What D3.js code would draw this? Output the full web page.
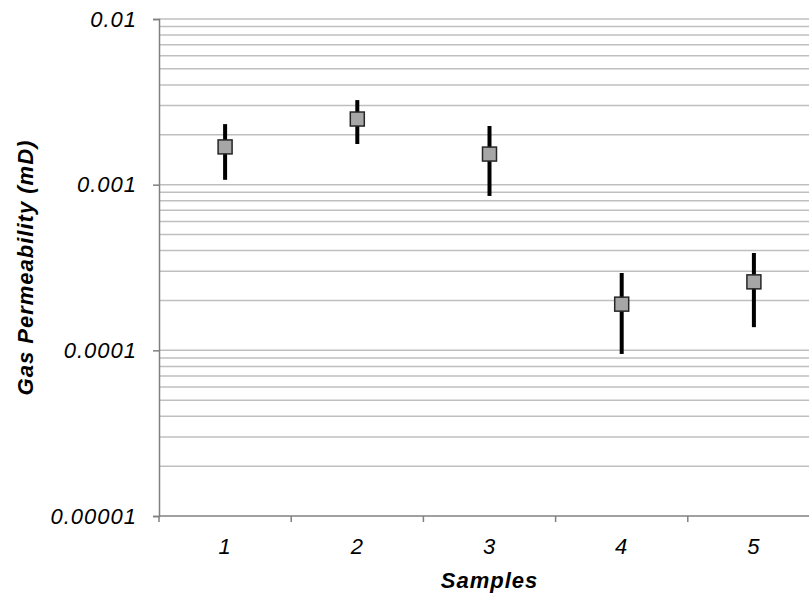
<!DOCTYPE html>
<html><head><meta charset="utf-8">
<script src="https://cdn.jsdelivr.net/npm/d3@7"></script>
<style>body{margin:0;background:#fff}svg{display:block}text{font-family:"Liberation Sans",Arial,sans-serif;letter-spacing:1px}</style>
</head><body><svg id="c" width="809" height="596"></svg>
<script>
const samples = ["1","2","3","4","5"];
const perm = [0.00169, 0.00249, 0.00153, 0.000190, 0.000259];
const permHigh = [0.00232, 0.00324, 0.00226, 0.000293, 0.000387];
const permLow = [0.00107, 0.00176, 0.000855, 0.0000951, 0.000138];
const yTicks = [0.00001, 0.0001, 0.001, 0.01];
const yTickLabels = ["0.00001","0.0001","0.001","0.01"];

(function () {
const svg = d3.select("#c");
const mLeft = 159, mRight = 820, mTop = 19, mBottom = 516;
const fs = 22;
const x = d3.scaleBand().domain(samples).range([mLeft, mRight]);
const y = d3.scaleLog().domain([0.00001, 0.01]).range([mBottom, mTop]);

// gridlines (major + minor)
const grid = [];
for (let e = -5; e < -2; e++) for (let m = 1; m <= 9; m++) grid.push(m * Math.pow(10, e));
grid.push(0.01);
svg.append("g").selectAll("line").data(grid.filter(v => v > 0.00001)).join("line")
  .attr("x1", mLeft).attr("x2", mRight)
  .attr("y1", d => y(d)).attr("y2", d => y(d))
  .attr("stroke", "#bfbfbf").attr("stroke-width", 1.5);

// y axis
const ya = svg.append("g").attr("transform", `translate(${mLeft},0)`)
  .call(d3.axisLeft(y).tickValues(yTicks).tickFormat((d, i) => yTickLabels[i]).tickSize(6).tickPadding(16));
ya.attr("font-size", fs).attr("font-family", '"Liberation Sans",Arial,sans-serif');
ya.select(".domain").attr("stroke", "#808080").attr("stroke-width", 1.5);
ya.selectAll(".tick line").attr("stroke", "#808080").attr("stroke-width", 1.5);
ya.selectAll("text").style("font-size", fs + "px").attr("font-style", "italic").attr("fill", "#000");

// x axis
const xa = svg.append("g").attr("transform", `translate(0,${mBottom})`);
xa.append("line").attr("x1", mLeft).attr("x2", mRight).attr("y1", 0).attr("y2", 0)
  .attr("stroke", "#808080").attr("stroke-width", 1.5);
const bounds = samples.map(s => x(s)).concat([mRight]);
xa.selectAll("line.tk").data(bounds).join("line").attr("class", "tk")
  .attr("x1", d => d).attr("x2", d => d).attr("y1", 0).attr("y2", 6)
  .attr("stroke", "#808080").attr("stroke-width", 1.5);
xa.selectAll("text").data(samples).join("text")
  .attr("x", d => x(d) + x.bandwidth() / 2).attr("y", 38)
  .attr("text-anchor", "middle").style("font-size", fs + "px").attr("font-style", "italic").text(d => d);

// axis titles
svg.append("text").attr("x", (mLeft + mRight) / 2).attr("y", 588).attr("text-anchor", "middle")
  .style("font-size", fs + "px").attr("font-weight", "bold").attr("font-style", "italic").text("Samples");
svg.append("text").attr("transform", `translate(33,${(mTop + mBottom) / 2}) rotate(-90)`)
  .attr("text-anchor", "middle").style("font-size", fs + "px").attr("font-weight", "bold").attr("font-style", "italic")
  .text("Gas Permeability (mD)");

// error bars
const cx = i => x(samples[i]) + x.bandwidth() / 2;
svg.append("g").selectAll("line").data(samples).join("line")
  .attr("x1", (d, i) => cx(i)).attr("x2", (d, i) => cx(i))
  .attr("y1", (d, i) => y(permHigh[i])).attr("y2", (d, i) => y(permLow[i]))
  .attr("stroke", "#000").attr("stroke-width", 4);

// markers
const ms = 14;
svg.append("g").selectAll("rect").data(samples).join("rect")
  .attr("x", (d, i) => cx(i) - ms / 2).attr("y", (d, i) => y(perm[i]) - ms / 2)
  .attr("width", ms).attr("height", ms)
  .attr("fill", "#a6a6a6").attr("stroke", "#262626").attr("stroke-width", 1.5);
})();
</script></body></html>
